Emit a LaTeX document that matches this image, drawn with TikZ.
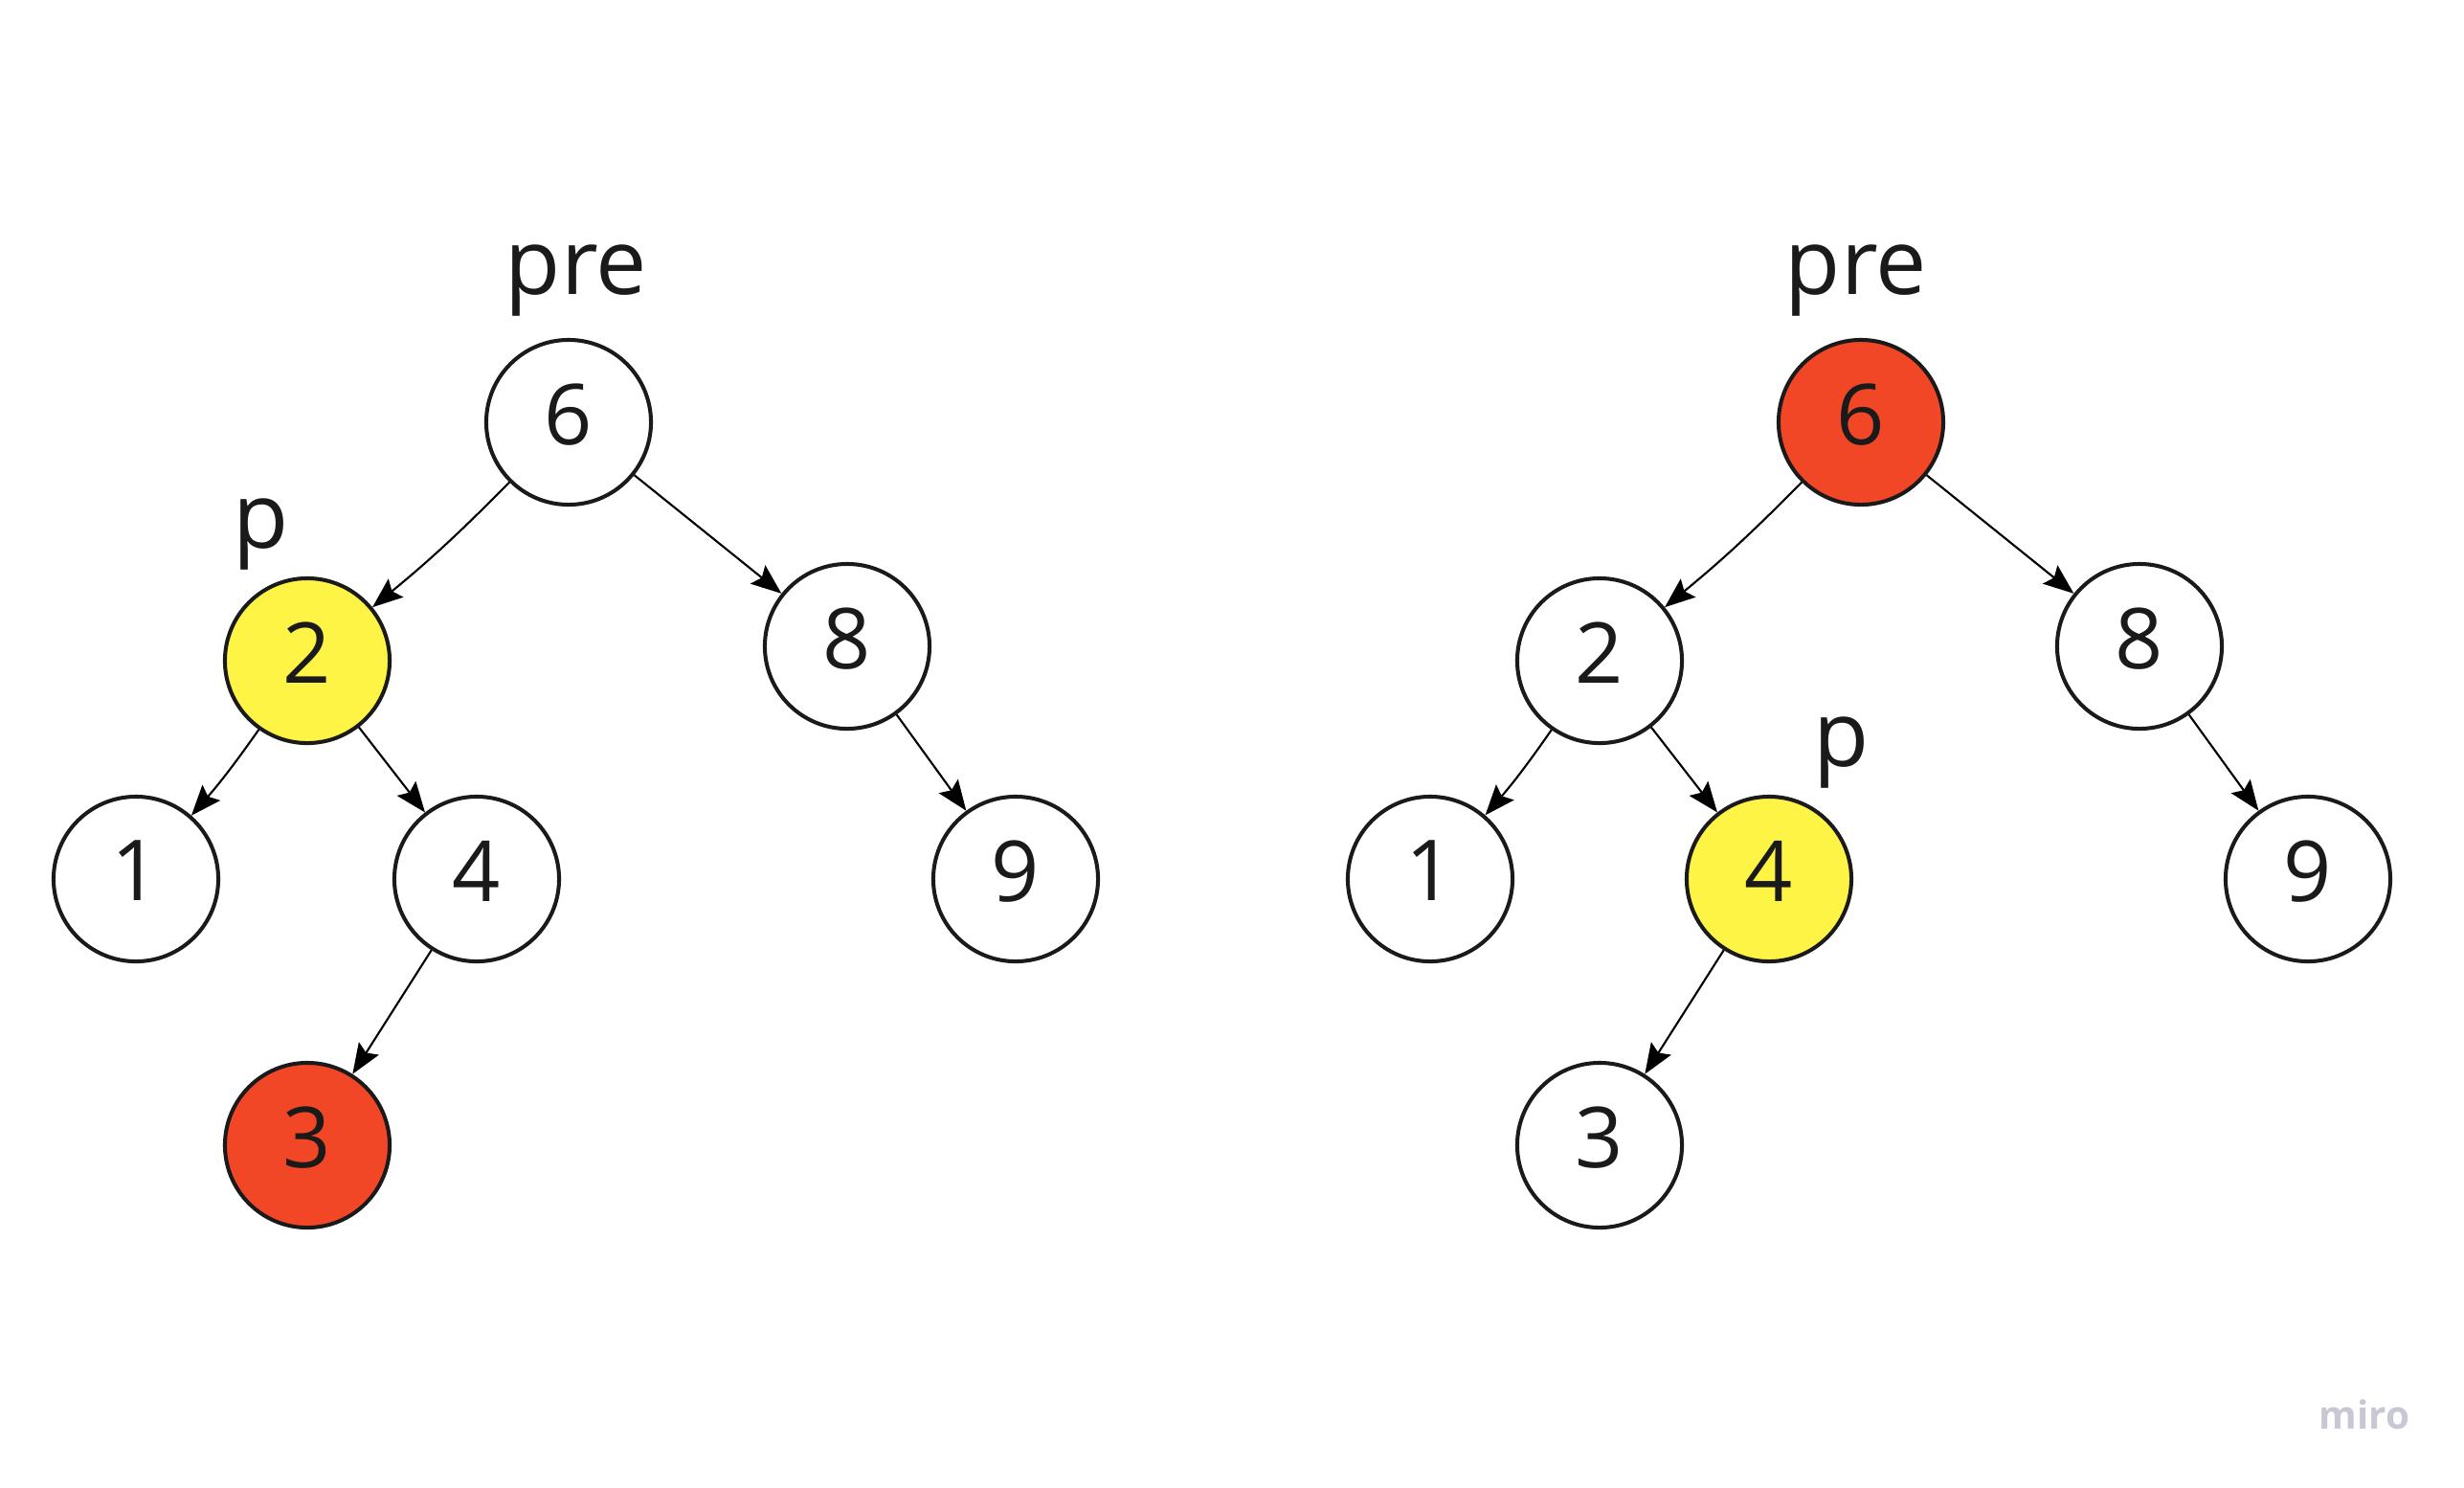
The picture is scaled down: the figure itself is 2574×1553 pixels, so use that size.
\documentclass[tikz,border=0pt]{standalone}
\usepackage{fontspec}
\setmainfont{Open Sans}
\usetikzlibrary{arrows.meta}
\definecolor{ink}{HTML}{1A1A1A}
\definecolor{myyellow}{HTML}{FEF445}
\definecolor{myred}{HTML}{F24726}
\definecolor{mirogray}{HTML}{C8C8D4}
\begin{document}
\begin{tikzpicture}[x=0.01cm,y=-0.01cm,
  vertex/.style={circle, draw=ink, line width=1.15pt, minimum size=1.72cm, inner sep=0pt,
    fill=white, text=ink, text depth=0.17cm, font=\fontsize{25}{30}\selectfont},
  hl/.style={fill=myyellow},
  cur/.style={fill=myred},
  lab/.style={anchor=base, inner sep=0pt, text=ink, font=\fontsize{27}{32}\selectfont},
  link/.style={draw=black, line width=0.6pt, -{Stealth[length=9pt,width=7pt,inset=1.5pt]}},
  curvy/.style={bend left=3}]
\useasboundingbox (0,0) rectangle (2574,1553);

% left tree
\node[vertex] (L6) at (594,441) {6};
\node[vertex,hl] (L2) at (321,690) {2};
\node[vertex] (L8) at (885,675) {8};
\node[vertex] (L1) at (142,918) {1};
\node[vertex] (L4) at (498,918) {4};
\node[vertex] (L9) at (1061,918) {9};
\node[vertex,cur] (L3) at (321,1196) {3};
\node[lab] (Lpre) at (602,307) {pre};
\node[lab] (Lp) at (273,572) {p};

\draw[link] (L6) to[curvy] (L2);
\draw[link] (L6) -- (L8);
\draw[link] (L2) to[curvy] (L1);
\draw[link] (L2) -- (L4);
\draw[link] (L4) -- (L3);
\draw[link] (L8) -- (L9);

% right tree
\node[vertex,cur] (R6) at (1944,441) {6};
\node[vertex] (R2) at (1671,690) {2};
\node[vertex] (R8) at (2235,675) {8};
\node[vertex] (R1) at (1494,918) {1};
\node[vertex,hl] (R4) at (1848,918) {4};
\node[vertex] (R9) at (2411,918) {9};
\node[vertex] (R3) at (1671,1196) {3};
\node[lab] (Rpre) at (1939,307) {pre};
\node[lab] (Rp) at (1924,800) {p};

\draw[link] (R6) to[curvy] (R2);
\draw[link] (R6) -- (R8);
\draw[link] (R2) to[curvy] (R1);
\draw[link] (R2) -- (R4);
\draw[link] (R4) -- (R3);
\draw[link] (R8) -- (R9);

% watermark
\node[anchor=base, inner sep=0pt, text=mirogray, font=\fontsize{11.5}{14}\selectfont\bfseries] (miro) at (2470,1492) {miro};
\end{tikzpicture}
\end{document}
